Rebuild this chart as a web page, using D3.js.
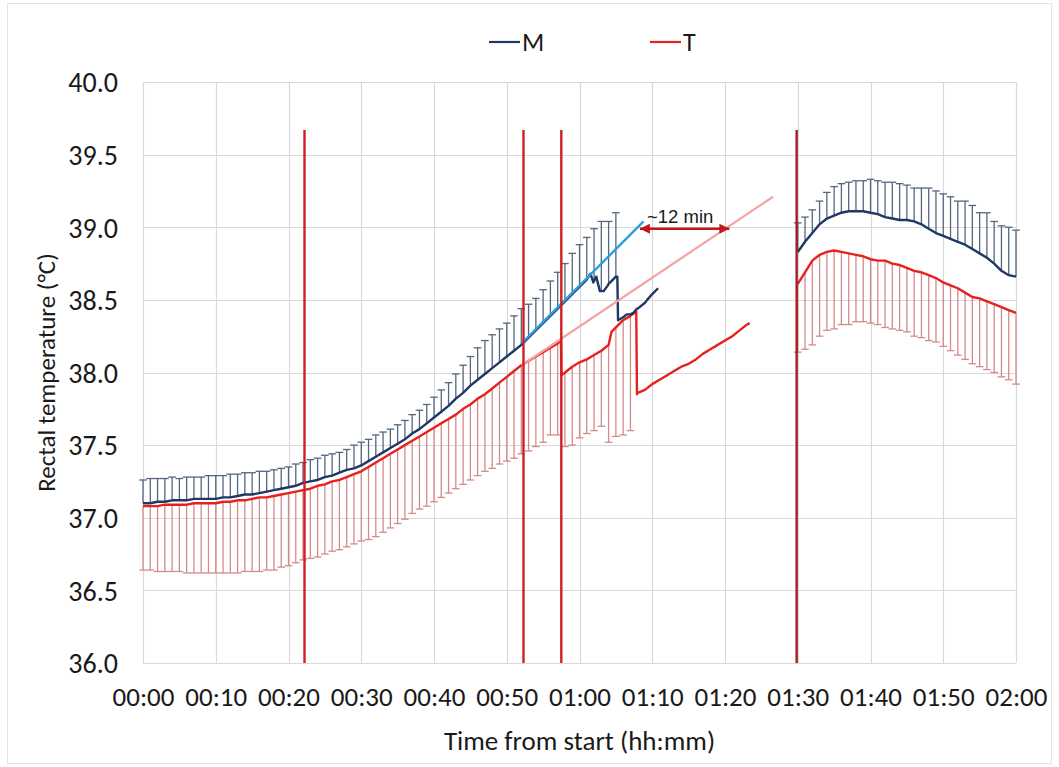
<!DOCTYPE html>
<html>
<head>
<meta charset="utf-8">
<script src="https://cdn.jsdelivr.net/npm/d3@7"></script>
<style>
  body { margin: 0; background: #fff; }
  svg text { font-family: Carlito, Lato, "Liberation Sans", sans-serif; fill: #1a1a1a; }
</style>
</head>
<body>
<svg id="chart" width="1059" height="767"></svg>
<script>
// ---- axis ticks ----
const xTickMinutes = [0, 10, 20, 30, 40, 50, 60, 70, 80, 90, 100, 110, 120];
const xTickLabels = ["00:00", "00:10", "00:20", "00:30", "00:40", "00:50", "01:00",
                     "01:10", "01:20", "01:30", "01:40", "01:50", "02:00"];
const yTicks = [36.0, 36.5, 37.0, 37.5, 38.0, 38.5, 39.0, 39.5, 40.0];

// ---- group M: mean rectal temperature, first part [minute, °C] ----
const mMeanEarly = [
  [0,37.10],[1,37.10],[2,37.11],[3,37.11],[4,37.12],[5,37.12],[6,37.12],[7,37.13],[8,37.13],[9,37.13],
  [10,37.13],[11,37.14],[12,37.14],[13,37.15],[14,37.16],[15,37.16],[16,37.17],[17,37.18],[18,37.19],[19,37.20],
  [20,37.21],[21,37.22],[22,37.24],[23,37.25],[24,37.26],[25,37.28],[26,37.29],[27,37.31],[28,37.33],[29,37.34],
  [30,37.36],[31,37.39],[32,37.42],[33,37.45],[34,37.48],[35,37.51],[36,37.54],[37,37.58],[38,37.61],[39,37.65],
  [40,37.69],[41,37.73],[42,37.77],[43,37.82],[44,37.86],[45,37.91],[46,37.95],[47,37.99],[48,38.03],[49,38.07],
  [50,38.11],[51,38.15],[52,38.19],[53,38.24],[54,38.29],[55,38.34],[56,38.39],[57,38.44],[58,38.49],[59,38.54],
  [60,38.59],[61,38.64],[61.5,38.68],[61.9,38.62],[62,38.63],[62.3,38.66],[62.8,38.56],[63,38.56],[63.3,38.56],
  [63.9,38.60],[64,38.61],[64.6,38.64],[65,38.66],[65.2,38.66],[65.3,38.36],[66,38.38],[66.5,38.40],[67,38.40],
  [67.4,38.41],[67.9,38.44],[68,38.44],[69,38.48],[69.3,38.50],[70,38.54],[70.8,38.58]
];
// upper error-bar ends for M, one per minute from 00:00
const mUpperEarly = [
  37.26,37.27,37.27,37.27,37.28,37.27,37.28,37.28,37.28,37.29,
  37.29,37.29,37.30,37.30,37.31,37.31,37.32,37.32,37.33,37.34,
  37.35,37.37,37.38,37.40,37.41,37.43,37.44,37.45,37.47,37.50,
  37.52,37.54,37.57,37.59,37.61,37.64,37.67,37.71,37.74,37.78,
  37.83,37.88,37.93,37.99,38.05,38.11,38.17,38.22,38.26,38.30,
  38.34,38.39,38.44,38.47,38.51,38.57,38.63,38.69,38.75,38.82,
  38.88,38.93,38.99,39.04,39.04,39.10
];

// ---- group T: mean rectal temperature, first part [minute, °C] ----
const tMeanEarly = [
  [0,37.08],[1,37.08],[2,37.08],[3,37.09],[4,37.09],[5,37.09],[6,37.09],[7,37.10],[8,37.10],[9,37.10],
  [10,37.10],[11,37.11],[12,37.11],[13,37.12],[14,37.12],[15,37.13],[16,37.14],[17,37.14],[18,37.15],[19,37.16],
  [20,37.17],[21,37.18],[22,37.19],[23,37.20],[24,37.22],[25,37.23],[26,37.25],[27,37.26],[28,37.28],[29,37.30],
  [30,37.32],[31,37.35],[32,37.38],[33,37.41],[34,37.44],[35,37.47],[36,37.50],[37,37.53],[38,37.56],[39,37.59],
  [40,37.62],[41,37.65],[42,37.68],[43,37.71],[44,37.75],[45,37.78],[46,37.82],[47,37.85],[48,37.89],[49,37.93],
  [50,37.97],[51,38.01],[52,38.05],[53,38.08],[54,38.11],[55,38.14],[56,38.17],[57,38.20],[57.45,38.22],
  [57.5,37.98],[58,38.00],[59,38.04],[60,38.07],[61,38.09],[62,38.12],[63,38.15],[64,38.19],[64.4,38.28],
  [65,38.31],[66,38.36],[67,38.39],[67.8,38.42],[67.9,37.85],[68,37.86],[69,37.88],[70,37.92],[71,37.95],
  [72,37.98],[73,38.01],[74,38.04],[75,38.06],[76,38.09],[77,38.13],[78,38.16],[79,38.19],[80,38.22],
  [81,38.25],[82,38.29],[83,38.33],[83.4,38.34]
];
// lower error-bar ends for T, one per minute from 00:00
const tLowerEarly = [
  36.64,36.64,36.63,36.63,36.63,36.63,36.62,36.62,36.62,36.62,
  36.62,36.62,36.62,36.62,36.63,36.63,36.63,36.64,36.64,36.66,
  36.67,36.69,36.71,36.72,36.73,36.75,36.77,36.78,36.80,36.82,
  36.84,36.85,36.87,36.90,36.93,36.96,36.99,37.03,37.06,37.08,
  37.11,37.14,37.17,37.20,37.23,37.26,37.29,37.32,37.34,37.37,
  37.39,37.41,37.44,37.46,37.49,37.52,37.57,37.57,37.49,37.50,
  37.55,37.58,37.60,37.63,37.52,37.56,37.57,37.60
];

// ---- second part, one value per minute from 01:30 to 02:00 ----
const lateStartMinute = 90;
const mMeanLate = [
  38.83,38.90,38.96,39.02,39.06,39.08,39.10,39.11,39.11,39.11,
  39.10,39.09,39.07,39.06,39.05,39.05,39.04,39.02,38.99,38.96,
  38.94,38.92,38.90,38.88,38.85,38.82,38.79,38.75,38.70,38.67,38.66
];
const mUpperLate = [
  39.03,39.07,39.12,39.18,39.24,39.28,39.30,39.31,39.32,39.32,
  39.33,39.32,39.31,39.31,39.30,39.29,39.27,39.27,39.27,39.25,
  39.23,39.21,39.18,39.18,39.15,39.10,39.10,39.04,39.01,39.00,38.98
];
const tMeanLate = [
  38.61,38.69,38.77,38.81,38.83,38.84,38.83,38.82,38.81,38.80,
  38.78,38.77,38.77,38.75,38.74,38.72,38.70,38.69,38.67,38.65,
  38.62,38.60,38.58,38.55,38.52,38.51,38.49,38.47,38.45,38.43,38.41
];
const tLowerLate = [
  38.14,38.16,38.19,38.25,38.29,38.30,38.33,38.33,38.35,38.35,
  38.34,38.33,38.31,38.30,38.29,38.28,38.25,38.24,38.22,38.21,
  38.18,38.15,38.12,38.09,38.06,38.04,38.02,38.00,37.97,37.95,37.92
];

// ---- events and heating-rate annotation ----
const eventMinutes = [22.2, 52.3, 57.5, 89.85];
const eventTop = 39.67;
const mTrendLine = [[52.05, 38.20], [68.8, 39.04]];
const tTrendLine = [[52.05, 38.05], [86.6, 39.21]];
const delayArrow = [[68.3, 38.99], [80.6, 38.99]];
const delayLabel = "~12 min";

const seriesNames = ["M", "T"];

// ---- styles ----
const colM = "#203864", colMBar = "#56657f";
const colT = "#e8201e", colTBar = "#d48a8a";
const eventColors = ["#cf1f24", "#cf1f24", "#cf1f24", "#a11d22"];

// ---- layout ----
const svg = d3.select("#chart");
const x = d3.scaleLinear().domain([0, 120]).range([143, 1016]);
const y = d3.scaleLinear().domain([36, 40]).range([663, 82]);

// chart frame
svg.append("rect").attr("x", 7.5).attr("y", 3.5).attr("width", 1044).attr("height", 760)
  .attr("fill", "none").attr("stroke", "#e4e4e4");

// gridlines
const grid = svg.append("g");
grid.selectAll("line.h").data(yTicks).join("line")
  .attr("x1", x(0)).attr("x2", x(120))
  .attr("y1", d => Math.round(y(d)) + 0.5).attr("y2", d => Math.round(y(d)) + 0.5)
  .attr("stroke", "#d9d9d9").attr("stroke-width", 1.2);
grid.selectAll("line.v").data(xTickMinutes).join("line")
  .attr("y1", y(40)).attr("y2", y(36))
  .attr("x1", d => Math.round(x(d)) + 0.5).attr("x2", d => Math.round(x(d)) + 0.5)
  .attr("stroke", "#d9d9d9").attr("stroke-width", 1.2);

// axes (labels only)
const xAxis = d3.axisBottom(x).tickValues(xTickMinutes)
  .tickFormat((d, i) => xTickLabels[i]).tickSize(0).tickPadding(0);
const gx = svg.append("g").attr("transform", `translate(0,${y(36)})`).call(xAxis);
gx.select(".domain").remove();
gx.selectAll("text").attr("y", 34).attr("dy", "0.35em").style("font-size", "27px").attr("fill", "#1a1a1a");

const yAxis = d3.axisLeft(y).tickValues(yTicks).tickFormat(d3.format(".1f")).tickSize(0).tickPadding(0);
const gy = svg.append("g").attr("transform", `translate(${x(0)},0)`).call(yAxis);
gy.select(".domain").remove();
gy.selectAll("text").attr("x", -25).attr("dy", "0.35em").style("font-size", "28px").attr("fill", "#1a1a1a");

// helpers
const meanAt = (pairs) => { const m = new Map(pairs.map(p => [p[0], p[1]])); return t => m.get(t); };
const toPairs = (vals, start) => vals.map((v, i) => [start + i, v]);
const mLatePairs = toPairs(mMeanLate, lateStartMinute);
const tLatePairs = toPairs(tMeanLate, lateStartMinute);

function errorBars(g, tips, start, lookup, color) {
  const rows = tips.map((tip, i) => ({ t: start + i, base: lookup(start + i), tip }));
  const cap = 3.8;
  const sel = g.selectAll(null).data(rows).join("g").attr("stroke", color).attr("stroke-width", 1.3);
  sel.append("line").attr("x1", d => x(d.t)).attr("x2", d => x(d.t))
    .attr("y1", d => y(d.base)).attr("y2", d => y(d.tip));
  sel.append("line").attr("x1", d => x(d.t) - cap).attr("x2", d => x(d.t) + cap)
    .attr("y1", d => y(d.tip)).attr("y2", d => y(d.tip));
}

const bars = svg.append("g");
errorBars(bars, tLowerEarly, 0, meanAt(tMeanEarly), colTBar);
errorBars(bars, tLowerLate, lateStartMinute, meanAt(tLatePairs), colTBar);
errorBars(bars, mUpperEarly, 0, meanAt(mMeanEarly), colMBar);
errorBars(bars, mUpperLate, lateStartMinute, meanAt(mLatePairs), colMBar);

// mean lines
const line = d3.line().x(d => x(d[0])).y(d => y(d[1]));
const lines = svg.append("g").attr("fill", "none").attr("stroke-linejoin", "round");
[[tMeanEarly, colT], [tLatePairs, colT], [mMeanEarly, colM], [mLatePairs, colM]].forEach(([d, c]) => {
  lines.append("path").datum(d).attr("d", line).attr("stroke", c).attr("stroke-width", 2.4);
});

// heating-rate trend lines
svg.append("path").datum(tTrendLine).attr("d", line).attr("fill", "none")
  .attr("stroke", "#f3a3a3").attr("stroke-width", 2.2);
svg.append("path").datum(mTrendLine).attr("d", line).attr("fill", "none")
  .attr("stroke", "#2aa0dc").attr("stroke-width", 2.4);

// event markers
svg.append("g").selectAll("line").data(eventMinutes).join("line")
  .attr("x1", d => x(d)).attr("x2", d => x(d))
  .attr("y1", y(eventTop)).attr("y2", y(36))
  .attr("stroke", (d, i) => eventColors[i]).attr("stroke-width", 2.4);

// delay arrow with heads at both ends
const defs = svg.append("defs");
defs.append("marker").attr("id", "head").attr("viewBox", "0 0 10 10")
  .attr("refX", 10).attr("refY", 5).attr("markerWidth", 12).attr("markerHeight", 10)
  .attr("markerUnits", "userSpaceOnUse").attr("orient", "auto-start-reverse")
  .append("path").attr("d", "M0,0 L10,5 L0,10 Z").attr("fill", "#c0161c");
svg.append("line")
  .attr("x1", x(delayArrow[0][0])).attr("x2", x(delayArrow[1][0]))
  .attr("y1", y(delayArrow[0][1])).attr("y2", y(delayArrow[1][1]))
  .attr("stroke", "#c0161c").attr("stroke-width", 2.4)
  .attr("marker-start", "url(#head)").attr("marker-end", "url(#head)");
svg.append("text").attr("x", 647).attr("y", y(delayArrow[0][1]) - 6)
  .style("font-family", "'Liberation Sans', Arial, sans-serif").style("font-size", "18.5px")
  .text(delayLabel);

// legend
const legend = svg.append("g");
const legendX = [489, 650];
seriesNames.forEach((name, i) => {
  legend.append("line").attr("x1", legendX[i]).attr("x2", legendX[i] + 31)
    .attr("y1", 42).attr("y2", 42).attr("stroke", i === 0 ? colM : colT).attr("stroke-width", 2.2);
  legend.append("text").attr("x", legendX[i] + 33).attr("y", 42).attr("dy", "0.36em")
    .style("font-size", "26px").text(name);
});

// axis titles
svg.append("text").attr("x", x(60)).attr("y", 741).attr("text-anchor", "middle")
  .attr("dy", "0.35em").style("font-size", "27px").text("Time from start (hh:mm)");
svg.append("text").attr("transform", `translate(46,${y(38)}) rotate(-90)`)
  .attr("text-anchor", "middle").attr("dy", "0.35em").style("font-size", "25px")
  .text("Rectal temperature (°C)");
</script>
</body>
</html>
